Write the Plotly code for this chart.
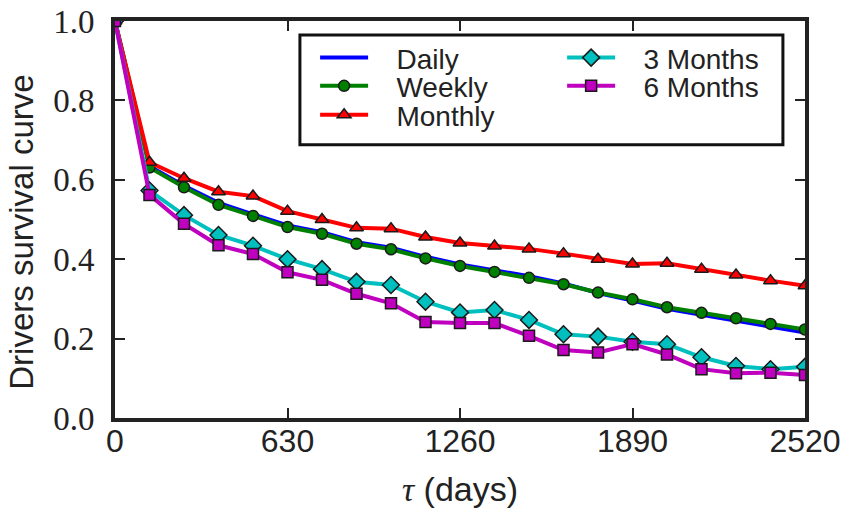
import plotly.graph_objects as go

days = [0, 126, 252, 378, 504, 630, 756, 882, 1008, 1134, 1260,
        1386, 1512, 1638, 1764, 1890, 2016, 2142, 2268, 2394, 2520]

daily = [1.0, 0.634, 0.585, 0.542, 0.513, 0.485, 0.468, 0.443, 0.429, 0.406, 0.387,
         0.372, 0.357, 0.339, 0.315, 0.296, 0.275, 0.260, 0.245, 0.231, 0.215]
weekly = [1.0, 0.631, 0.581, 0.537, 0.509, 0.481, 0.464, 0.439, 0.425, 0.402, 0.383,
          0.368, 0.353, 0.337, 0.316, 0.299, 0.279, 0.265, 0.251, 0.237, 0.223]
monthly = [1.0, 0.644, 0.604, 0.570, 0.559, 0.521, 0.500, 0.479, 0.477, 0.456, 0.441,
           0.433, 0.426, 0.414, 0.400, 0.388, 0.390, 0.375, 0.360, 0.346, 0.333]
months3 = [1.0, 0.573, 0.511, 0.461, 0.434, 0.400, 0.375, 0.343, 0.335, 0.293, 0.266,
           0.272, 0.247, 0.211, 0.205, 0.192, 0.186, 0.153, 0.131, 0.123, 0.129]
months6 = [1.0, 0.562, 0.489, 0.435, 0.413, 0.367, 0.348, 0.313, 0.289, 0.242, 0.239,
           0.239, 0.207, 0.171, 0.165, 0.186, 0.160, 0.123, 0.113, 0.114, 0.108]

x_ticks = [0, 630, 1260, 1890, 2520]
y_ticks = [0.0, 0.2, 0.4, 0.6, 0.8, 1.0]

SANS = "Liberation Sans, Arial, sans-serif"
SERIF = "Liberation Serif, Times New Roman, serif"
INK = "#222222"
EDGE = "#1a1a1a"
LW = 4
PAD = "\u00a0\u00a0\u00a0"

fig = go.Figure()
fig.add_trace(go.Scatter(x=days, y=daily, name=PAD + "Daily", mode="lines",
                         line=dict(color="#0000ff", width=LW), legend="legend"))
fig.add_trace(go.Scatter(x=days, y=weekly, name=PAD + "Weekly", mode="lines+markers",
                         line=dict(color="#008000", width=LW),
                         marker=dict(symbol="circle", size=11, color="#008000",
                                     line=dict(color=EDGE, width=1.5)), legend="legend2"))
fig.add_trace(go.Scatter(x=days, y=monthly, name=PAD + "Monthly", mode="lines+markers",
                         line=dict(color="#ff0000", width=LW),
                         marker=dict(symbol="triangle-up", size=12, color="#ff0000",
                                     line=dict(color=EDGE, width=1.5)), legend="legend3"))
fig.add_trace(go.Scatter(x=days, y=months3, name=PAD + "3 Months", mode="lines+markers",
                         line=dict(color="#00bfbf", width=LW),
                         marker=dict(symbol="diamond", size=13, color="#00bfbf",
                                     line=dict(color=EDGE, width=1.5)), legend="legend4"))
fig.add_trace(go.Scatter(x=days, y=months6, name=PAD + "6 Months", mode="lines+markers",
                         line=dict(color="#bf00bf", width=LW),
                         marker=dict(symbol="square", size=11, color="#bf00bf",
                                     line=dict(color=EDGE, width=1.5)), legend="legend5"))

axis_common = dict(showline=True, linewidth=4, linecolor=INK, mirror="allticks",
                   ticks="inside", ticklen=10, tickwidth=1.5, tickcolor=INK,
                   showgrid=False, zeroline=False, automargin=False)

def leg(x, y):
    return dict(x=x, y=y, xanchor="left", yanchor="middle",
                bgcolor="rgba(0,0,0,0)", borderwidth=0, itemwidth=48,
                font=dict(family=SANS, size=28, color=INK))

fig.update_layout(
    width=850, height=521,
    showlegend=True,
    margin=dict(l=115, r=45, t=21, b=103, pad=0),
    plot_bgcolor="white", paper_bgcolor="white",
    xaxis=dict(range=[0, 2520], tickvals=x_ticks, ticktext=[str(v) for v in x_ticks],
               tickfont=dict(family=SANS, size=32, color=INK), ticklabelstandoff=-8,
               title=dict(text="<span style='font-family:Liberation Serif'><i>τ</i></span> (days)",
                          font=dict(family=SANS, size=34, color=INK), standoff=20),
               **axis_common),
    yaxis=dict(range=[0, 1], tickvals=y_ticks, ticktext=["%.1f" % v for v in y_ticks],
               tickfont=dict(family=SERIF, size=33, color=INK), ticklabelstandoff=10,
               **axis_common),
    annotations=[dict(text="Drivers survival curve", xref="paper", yref="paper",
                      x=-0.136, y=0.467, xanchor="center", yanchor="middle",
                      textangle=-90, showarrow=False,
                      font=dict(family=SANS, size=33, color=INK))],
    legend=leg(0.290, 0.907),
    legend2=leg(0.290, 0.836),
    legend3=leg(0.290, 0.763),
    legend4=leg(0.648, 0.907),
    legend5=leg(0.648, 0.836),
    shapes=[dict(type="rect", xref="paper", yref="paper",
                 x0=0.268, x1=0.968, y0=0.688, y1=0.965,
                 line=dict(color="#111111", width=3), fillcolor="white", layer="below")],
)

fig.write_html("out.html", config={"displayModeBar": False},
               post_script="document.body.style.margin='0';")
